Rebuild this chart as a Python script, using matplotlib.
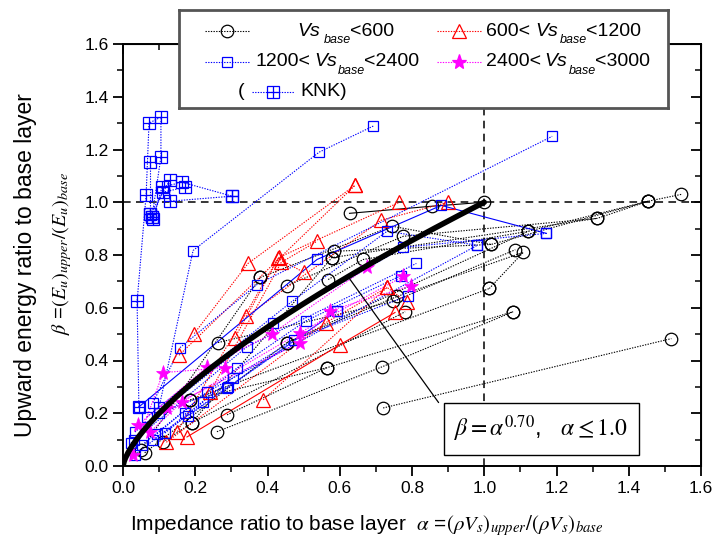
import numpy as np
import matplotlib
matplotlib.use("Agg")
import matplotlib.pyplot as plt

plt.rcParams['font.family'] = ['Liberation Sans', 'DejaVu Sans']
plt.rcParams['mathtext.fontset'] = 'stix'

# ---------------- data ----------------
black_chains = [
    [(0.627, 0.958), (0.855, 0.985), (1.0, 1.0)],
    [(0.38, 0.715), (0.745, 0.909), (1.019, 0.84), (1.454, 1.004), (1.546, 1.03)],
    [(0.454, 0.684), (0.776, 0.871), (1.313, 0.939), (1.454, 1.004)],
    [(0.568, 0.707), (0.665, 0.783), (1.122, 0.89), (1.454, 1.004)],
    [(0.578, 0.79), (0.584, 0.814), (1.019, 0.84)],
    [(0.263, 0.468), (0.748, 0.624), (1.086, 0.82)],
    [(0.454, 0.468), (0.759, 0.643), (1.108, 0.81), (1.014, 0.673)],
    [(0.288, 0.194), (0.565, 0.373), (1.08, 0.585)],
    [(0.26, 0.13), (0.717, 0.376), (1.08, 0.585)],
    [(0.72, 0.22), (1.518, 0.483)],
    [(0.111, 0.091), (0.19, 0.163), (0.781, 0.585)],
    [(0.186, 0.25), (0.565, 0.373)],
    [(0.05, 0.06), (0.38, 0.715)],
    [(0.06, 0.05), (0.454, 0.468), (1.122, 0.89)],
    [(0.19, 0.163), (0.578, 0.79), (1.313, 0.939)],
    [(0.186, 0.25), (1.014, 0.673)],
]
black_solid = [True, False, False, False, False, False, False, False, False, False,
               False, False, False, False, False, False]

red_chains = [
    [(0.197, 0.502), (0.346, 0.768), (0.643, 1.065)],
    [(0.155, 0.42), (0.643, 1.065)],
    [(0.341, 0.567), (0.715, 0.932), (0.9, 1.0)],
    [(0.31, 0.487), (0.432, 0.791), (0.765, 1.0)],
    [(0.241, 0.281), (0.438, 0.772), (0.537, 0.852)],
    [(0.15, 0.13), (0.429, 0.787), (0.501, 0.734)],
    [(0.388, 0.251), (0.731, 0.677), (0.787, 0.62)],
    [(0.177, 0.11), (0.601, 0.46), (0.753, 0.582)],
    [(0.12, 0.09), (0.562, 0.544), (0.731, 0.677)],
]
red_solid = [False, False, False, False, False, False, False, True, False]

blue_chains = [
    [(0.1, 0.224), (0.194, 0.817), (0.543, 1.19), (0.693, 1.289)],
    [(0.083, 0.24), (0.158, 0.449), (0.371, 0.688), (1.188, 1.25)],
    [(0.044, 0.224), (0.537, 0.783), (0.881, 0.988), (1.172, 0.882)],
    [(0.066, 0.186), (0.468, 0.624), (0.731, 0.89), (0.981, 0.837)],
    [(0.033, 0.129), (0.416, 0.544), (0.776, 0.829), (1.172, 0.882)],
    [(0.022, 0.087), (0.343, 0.452), (0.812, 0.768)],
    [(0.053, 0.08), (0.316, 0.372), (0.507, 0.551), (0.77, 0.722)],
    [(0.033, 0.042), (0.305, 0.335), (0.474, 0.479), (0.79, 0.646)],
    [(0.083, 0.099), (0.288, 0.297), (0.593, 0.589)],
    [(0.094, 0.122), (0.233, 0.281), (0.981, 0.837)],
    [(0.116, 0.125), (0.222, 0.243)],
    [(0.172, 0.2), (0.18, 0.19), (0.593, 0.589)],
    [(0.03, 0.1), (0.1, 0.2), (0.29, 0.3)],
]
blue_solid = [False, False, True, False, False, False, False, False, False, False,
              False, False, False]

magenta_chains = [
    [(0.028, 0.042), (0.111, 0.354), (0.283, 0.373)],
    [(0.042, 0.156), (0.233, 0.376), (0.413, 0.502), (0.676, 0.753)],
    [(0.075, 0.129), (0.163, 0.243), (0.49, 0.506), (0.776, 0.719)],
    [(0.122, 0.221), (0.49, 0.468), (0.573, 0.589), (0.798, 0.684)],
]

knk_chains = [
    [(0.044, 0.224), (0.039, 0.624), (0.064, 1.027), (0.072, 1.30), (0.105, 1.323),
     (0.105, 1.171), (0.08, 0.943)],
    [(0.075, 1.152), (0.075, 0.954)],
    [(0.083, 0.935), (0.108, 1.057), (0.163, 1.076), (0.302, 1.023)],
    [(0.08, 0.943), (0.11, 1.038), (0.172, 1.057)],
    [(0.075, 0.954), (0.130, 1.084), (0.130, 1.004), (0.302, 1.023)],
]

fit_exponent = 0.70
xticks = [0.0, 0.2, 0.4, 0.6, 0.8, 1.0, 1.2, 1.4, 1.6]
yticks = [0.0, 0.2, 0.4, 0.6, 0.8, 1.0, 1.2, 1.4, 1.6]

# ---------------- figure ----------------
fig = plt.figure(figsize=(7.12, 5.45), dpi=100)
ax = fig.add_axes([123 / 712, 79 / 545, 578 / 712, 422 / 545])
ax.set_xlim(0, 1.6)
ax.set_ylim(0, 1.6)

dot = (0, (1.2, 1.2))


def draw(chains, color, marker, ms, solid=None, mfc='none', mew=0.9):
    for i, ch in enumerate(chains):
        xs = [p[0] for p in ch]
        ys = [p[1] for p in ch]
        ls = '-' if (solid is not None and solid[i]) else dot
        ax.plot(xs, ys, color=color, lw=0.8, ls=ls, zorder=2)
        ax.plot(xs, ys, ls='none', marker=marker, ms=ms, mfc=mfc, mec=color,
                mew=mew, zorder=3)


draw(black_chains, 'black', 'o', 9, black_solid)
draw(red_chains, '#ff0000', '^', 10, red_solid)
draw(blue_chains, '#0000ff', 's', 7.5, blue_solid)
draw(magenta_chains, '#ff00ff', '*', 11, None, mfc='#ff00ff', mew=0.5)
draw(knk_chains, '#0000ff', 's', 8, None)
for ch in knk_chains:
    ax.plot([p[0] for p in ch], [p[1] for p in ch], ls='none', marker='+', ms=8,
            mec='#0000ff', mew=0.9, zorder=3)

# fitted curve
xa = np.linspace(0, 1.0, 300)
ax.plot(xa, xa ** fit_exponent, color='black', lw=4.0, zorder=5, solid_capstyle='round')

# reference lines
ax.axhline(1.0, color='black', lw=1.1, ls=(0, (5, 3.5)), zorder=1)
ax.axvline(1.0, color='black', lw=1.1, ls=(0, (5, 3.5)), zorder=1)

# ticks
ax.set_xticks(xticks)
ax.set_yticks(yticks)
ax.set_xticklabels([f"{v:.1f}" for v in xticks])
ax.set_yticklabels([f"{v:.1f}" for v in yticks])
ax.set_xticks(np.arange(0, 1.61, 0.1), minor=True)
ax.set_yticks(np.arange(0, 1.61, 0.1), minor=True)
ax.tick_params(which='major', direction='out', length=7, width=1.3, labelsize=12.5)
ax.tick_params(which='minor', direction='out', length=4, width=1.1)
for s in ax.spines.values():
    s.set_linewidth(1.4)

sx = ax.secondary_xaxis('top')
sx.set_xticks(xticks)
sx.set_xticks(np.arange(0, 1.61, 0.1), minor=True)
sx.tick_params(which='both', direction='in', labeltop=False)
sx.tick_params(which='major', length=7, width=1.3)
sx.tick_params(which='minor', length=4, width=1.1)
sy = ax.secondary_yaxis('right')
sy.set_yticks(yticks)
sy.set_yticks(np.arange(0, 1.61, 0.1), minor=True)
sy.tick_params(which='both', direction='in', labelright=False)
sy.tick_params(which='major', length=7, width=1.3)
sy.tick_params(which='minor', length=4, width=1.1)

# axis labels
fig.text(26 / 712, 1 - 265 / 545, 'Upward energy ratio to base layer', rotation=90,
         ha='center', va='center', fontsize=16.5)
fig.text(62 / 712, 1 - 253 / 545,
         r'$\beta$ =$(E_u)_{upper}/(E_u)_{base}$', rotation=90,
         ha='center', va='center', fontsize=14.5)
fig.text(367 / 712, 1 - 526 / 545,
         r'Impedance ratio to base layer  $\alpha$ =$(\rho V_s)_{upper}/(\rho V_s)_{base}$',
         ha='center', va='center', fontsize=15)

# annotation box + leader
ax.annotate('', xy=(0.623, 0.623 ** fit_exponent), xycoords='data',
            xytext=((440 - 123) / 361, (466 - 405) / 263), textcoords='data',
            arrowprops=dict(arrowstyle='-', color='black', lw=0.9), zorder=6)
ax.text((541 - 123) / 361, (466 - 429) / 263,
        r'$\beta = \alpha^{0.70}$,   $\alpha \leq 1.0$',
        ha='center', va='center', fontsize=17, zorder=7,
        bbox=dict(boxstyle='square,pad=0.45', fc='white', ec='black', lw=1.0))

# legend box (manual)
lax = fig.add_axes([179 / 712, 1 - 108 / 545, 489 / 712, 98 / 545])
lax.set_xlim(179, 668)
lax.set_ylim(108, 10)
lax.set_xticks([])
lax.set_yticks([])
for s in lax.spines.values():
    s.set_linewidth(2.0)
    s.set_edgecolor('#555555')
lax.set_zorder(10)


def leg_entry(x0, x1, y, color, marker, ms, mfc='none', plus=False):
    lax.plot([x0, x1], [y, y], color=color, lw=0.8, ls=dot)
    lax.plot([(x0 + x1) / 2], [y], marker=marker, ms=ms, mfc=mfc, mec=color, mew=0.9)
    if plus:
        lax.plot([(x0 + x1) / 2], [y], marker='+', ms=ms, mec=color, mew=0.9)


fs = 14


def leg_text(x_pre, pre, x_vs, x_base, x_post, post, y):
    if pre:
        lax.text(x_pre, y, pre, fontsize=fs, va='center', ha='left')
    lax.text(x_vs, y, 'Vs', fontsize=fs, style='italic', va='center', ha='left')
    lax.text(x_base, y + 9, 'base', fontsize=9, style='italic', va='center', ha='left')
    lax.text(x_post, y, post, fontsize=fs, va='center', ha='left')


leg_entry(205, 250, 31, 'black', 'o', 9)
leg_text(0, '', 297, 324, 350, '<600', 31)
leg_entry(437, 482, 31, '#ff0000', '^', 10)
leg_text(486, '600<', 535, 560, 586, '<1200', 31)
leg_entry(205, 250, 62, '#0000ff', 's', 7.5)
leg_text(256, '1200<', 314, 338, 364, '<2400', 62)
leg_entry(437, 482, 62, '#ff00ff', '*', 11, mfc='#ff00ff')
leg_text(486, '2400<', 544, 569, 595, '<3000', 62)
lax.text(238, 92, '(', fontsize=fs, va='center', ha='left')
leg_entry(252, 294, 92, '#0000ff', 's', 8, plus=True)
lax.text(300, 92, 'KNK)', fontsize=fs, va='center', ha='left')

fig.savefig('out.png', dpi=100)
